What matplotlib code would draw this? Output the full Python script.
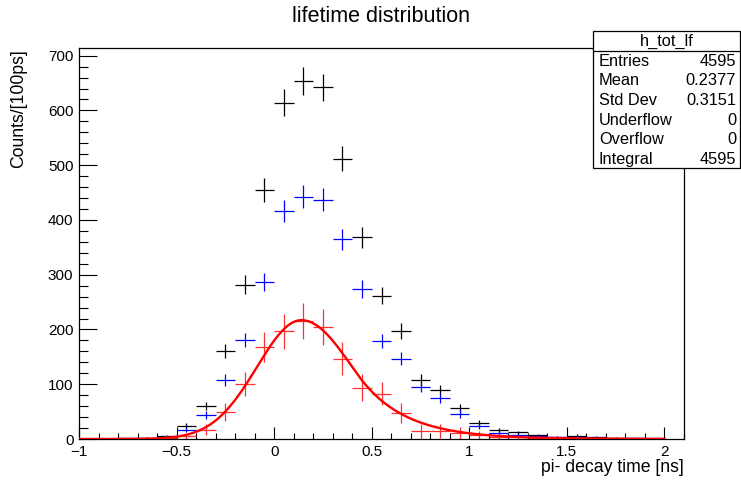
import numpy as np
import matplotlib
matplotlib.use("Agg")
import matplotlib.pyplot as plt
from matplotlib.patches import Rectangle
from matplotlib.lines import Line2D
from matplotlib.ticker import MultipleLocator

plt.rcParams["font.family"] = ["Liberation Sans", "DejaVu Sans"]

# bin centres, 100 ps bins from -1 to 2 ns
bin_centers = np.round(np.arange(-0.95, 2.0, 0.1), 2)
bin_width = 0.1

# total (h_tot_lf), blue and red (total - blue) histograms
counts_total = [0, 0, 1, 2, 5, 24, 60, 160, 282, 455, 614, 653, 642, 512, 368,
                262, 197, 108, 90, 57, 30, 16, 12, 7, 4, 6, 4, 2, 1, 1]
counts_blue = [0, 0, 1, 2, 3, 17, 44, 108, 181, 287, 416, 442, 437, 365, 274,
               179, 147, 95, 74, 46, 24, 11, 8, 5, 3, 4, 2, 1, 1, 0]
counts_red = [0, 0, 0, 0, 2, 5, 17, 50, 100, 168, 197, 215, 205, 147, 94,
              83, 47, 14, 15, 11, 7, 4, 3, 2, 1, 2, 1, 1, 0, 0]

# fit (gaussian core with exponential right tail)
fit_amp = 217.0
fit_mean = 0.14
fit_sigma_left = 0.228
fit_sigma_right = 0.26
fit_tail_k = 1.1
fit_range = (-1.0, 2.0)

stats_title = "h_tot_lf"
stats_rows = [("Entries", "4595"), ("Mean", "0.2377"), ("Std Dev", "0.3151"),
              ("Underflow", "0"), ("Overflow", "0"), ("Integral", "4595")]


def fit_func(x):
    d = x - fit_mean
    left = np.exp(-0.5 * (d / fit_sigma_left) ** 2)
    t = d / fit_sigma_right
    core = np.exp(-0.5 * t ** 2)
    tail = np.exp(0.5 * fit_tail_k ** 2 - fit_tail_k * t)
    right = np.where(t <= fit_tail_k, core, tail)
    return fit_amp * np.where(d < 0, left, right)


W, H = 741, 486
fig = plt.figure(figsize=(W / 100, H / 100), dpi=100)
ax = fig.add_axes([79 / W, 1 - 439 / H, (684 - 79) / W, (439 - 48) / H])


def draw_hist(vals, errs, color):
    vals = np.asarray(vals, float)
    m = vals > 0
    ax.errorbar(bin_centers[m], vals[m], yerr=np.asarray(errs)[m], xerr=bin_width / 2,
                fmt="none", ecolor=color, elinewidth=0.9, capsize=0)


tot = np.asarray(counts_total, float)
blu = np.asarray(counts_blue, float)
draw_hist(counts_total, np.sqrt(tot), "black")
draw_hist(counts_blue, np.sqrt(blu), "#0000ff")
draw_hist(counts_red, np.sqrt(tot + blu), "#ff3030")

xf = np.linspace(fit_range[0], fit_range[1], 600)
ax.plot(xf, fit_func(xf), color="#ff0000", lw=1.7, zorder=5)

ax.set_xlim(-1, 2.1)
ax.set_ylim(0, 714)
ax.xaxis.set_major_locator(MultipleLocator(0.5))
ax.xaxis.set_minor_locator(MultipleLocator(0.1))
ax.yaxis.set_major_locator(MultipleLocator(100))
ax.yaxis.set_minor_locator(MultipleLocator(20))
ax.tick_params(axis="x", which="major", direction="in", length=8.5, width=0.8, pad=4, labelsize=11)
ax.tick_params(axis="x", which="minor", direction="in", length=4.2, width=0.8)
ax.tick_params(axis="y", which="major", direction="in", length=13, width=0.8, pad=4, labelsize=11)
ax.tick_params(axis="y", which="minor", direction="in", length=6.5, width=0.8)
ax.xaxis.set_major_formatter(plt.FuncFormatter(lambda v, p: ("%g" % v).replace("-", "\u2212")))
for s in ax.spines.values():
    s.set_linewidth(0.9)

fig.text(381 / W, 1 - 17 / H, "lifetime distribution", ha="center", va="center", fontsize=15.5)
fig.text(684 / W, 1 - 468 / H, "pi- decay time [ns]", ha="right", va="center", fontsize=12.7)
fig.text(19 / W, 1 - 49 / H, "Counts/[100ps]", ha="center", va="top", rotation=90, fontsize=12.7)

# stats box
bx0, bx1, by0, by1 = 593, 740, 31, 168
fig.add_artist(Rectangle((bx0 / W, 1 - by1 / H), (bx1 - bx0) / W, (by1 - by0) / H,
                         transform=fig.transFigure, facecolor="white", edgecolor="black",
                         lw=0.9, zorder=5))
fig.add_artist(Line2D([bx0 / W, bx1 / W], [1 - 51 / H, 1 - 51 / H],
                      transform=fig.transFigure, color="black", lw=0.9, zorder=6))
fig.text((bx0 + bx1) / 2 / W, 1 - 41 / H, stats_title, ha="center", va="center",
         fontsize=11.8, zorder=7)
for i, (lab, val) in enumerate(stats_rows):
    yy = 1 - (61 + i * 19.7) / H
    fig.text(599 / W, yy, lab, ha="left", va="center", fontsize=11.8, zorder=7)
    fig.text(736 / W, yy, val, ha="right", va="center", fontsize=11.8, zorder=7)

fig.savefig("out.png", dpi=100)
